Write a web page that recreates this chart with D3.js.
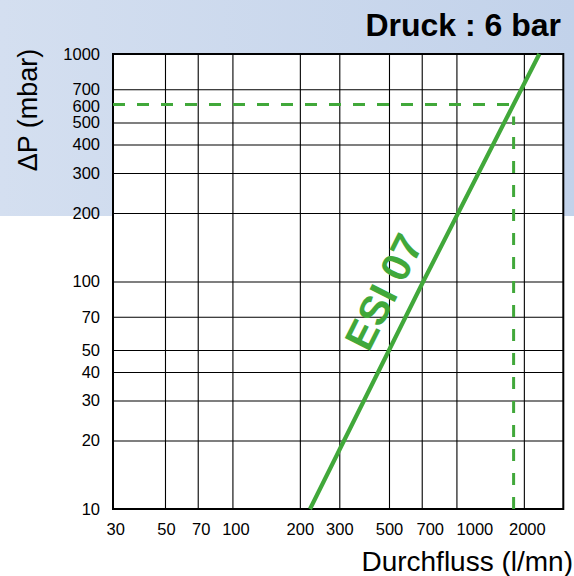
<!DOCTYPE html>
<html>
<head>
<meta charset="utf-8">
<script src="https://cdn.jsdelivr.net/npm/d3@7"></script>
<style>
  html, body { margin: 0; padding: 0; background: #fff; }
  svg { display: block; }
  text { font-family: "Liberation Sans", Arial, Helvetica, sans-serif; }
</style>
</head>
<body>
<svg id="chart" width="574" height="576"></svg>
<script>
// ---- data ----
const title = "Druck : 6 bar";
const yTitle = "ΔP (mbar)";
const xTitle = "Durchfluss (l/mn)";
const seriesName = "ESI 07";
const xTickValues = [30, 50, 70, 100, 200, 300, 500, 700, 1000, 2000];
const xGridValues = [50, 70, 100, 200, 300, 500, 700, 1000, 2000];
const yTickValues = [10, 20, 30, 40, 50, 70, 100, 200, 300, 400, 500, 600, 700, 1000];
const yGridValues = [20, 30, 40, 50, 70, 100, 200, 300, 400, 500, 700];
const flow = [222, 711, 2345];      // l/mn
const deltaP = [10, 100, 1000];     // mbar
const refPressure = 600;            // mbar (dashed)
const refFlow = 1800;               // l/mn (dashed)

// ---- layout ----
const svg = d3.select("#chart");
const L = 113, R = 563.3, T = 54, B = 509;
const green = "#41a83a";
// small label nudges (pixels) to mimic the hand-set labels of the original
const xLabelShift = { 50: 1, 70: 3, 100: 3, 700: 8, 1000: 18, 2000: 3 };
const yLabelShift = { 600: 2 };

const x = d3.scaleLog().domain([29.3, 3000]).range([L, R]);
const y = d3.scaleLog().domain([10, 1000]).range([B, T]);

// background band
const defs = svg.append("defs");
const grad = defs.append("linearGradient").attr("id", "bg").attr("x1", 0).attr("x2", 1).attr("y1", 0).attr("y2", 0);
grad.append("stop").attr("offset", 0).attr("stop-color", "#d4dff0");
grad.append("stop").attr("offset", 1).attr("stop-color", "#c2d2ea");
svg.append("rect").attr("x", 0).attr("y", 0).attr("width", 574).attr("height", 216).attr("fill", "url(#bg)");

// plot area
svg.append("rect").attr("x", L).attr("y", T).attr("width", R - L).attr("height", B - T).attr("fill", "#fff");

// grid lines
const gx = svg.append("g").attr("transform", `translate(0,${B})`)
  .call(d3.axisBottom(x).tickValues(xGridValues).tickSize(-(B - T)).tickFormat(""));
gx.select(".domain").remove();
gx.selectAll("line").attr("stroke", "#000").attr("stroke-width", 1.1);

const gy = svg.append("g").attr("transform", `translate(${L},0)`)
  .call(d3.axisLeft(y).tickValues(yGridValues).tickSize(-(R - L)).tickFormat(""));
gy.select(".domain").remove();
gy.selectAll("line").attr("stroke", "#000").attr("stroke-width", 1.1);

// frame
svg.append("rect").attr("x", L).attr("y", T).attr("width", R - L).attr("height", B - T)
  .attr("fill", "none").attr("stroke", "#000").attr("stroke-width", 2);

// tick labels
const ax = svg.append("g").attr("transform", `translate(0,${B})`)
  .call(d3.axisBottom(x).tickValues(xTickValues).tickSize(0).tickPadding(14).tickFormat(d3.format("d")));
ax.select(".domain").remove();
ax.selectAll("text").attr("font-size", 16.5).attr("fill", "#000")
  .attr("dx", d => xLabelShift[d] || 0)
  .style("font-family", '"Liberation Sans", Arial, sans-serif');

const ay = svg.append("g").attr("transform", `translate(${L},0)`)
  .call(d3.axisLeft(y).tickValues(yTickValues).tickSize(0).tickPadding(13).tickFormat(d3.format("d")));
ay.select(".domain").remove();
ay.selectAll("text").attr("font-size", 16.5).attr("fill", "#000")
  .attr("transform", d => `translate(0,${yLabelShift[d] || 0})`)
  .style("font-family", '"Liberation Sans", Arial, sans-serif');

// dashed reference lines
const xr = x(refFlow), yr = y(refPressure);
svg.append("line").attr("x1", L).attr("x2", xr + 4).attr("y1", yr).attr("y2", yr)
  .attr("stroke", green).attr("stroke-width", 3).attr("stroke-dasharray", "12,12");
svg.append("line").attr("x1", xr).attr("x2", xr).attr("y1", B).attr("y2", yr + 12)
  .attr("stroke", green).attr("stroke-width", 3).attr("stroke-dasharray", "12,12");

// main line
const pts = flow.map((f, i) => [f, deltaP[i]]);
svg.append("path").datum(pts)
  .attr("d", d3.line().x(d => x(d[0])).y(d => y(d[1])))
  .attr("fill", "none").attr("stroke", green).attr("stroke-width", 4.2);

// series label
const ang = Math.atan2(y(deltaP[2]) - y(deltaP[0]), x(flow[2]) - x(flow[0])) * 180 / Math.PI;
svg.append("text").attr("transform", `translate(384,292) rotate(${ang})`)
  .attr("text-anchor", "middle").attr("dominant-baseline", "central")
  .attr("font-size", 41).attr("font-weight", "bold").attr("fill", green)
  .text(seriesName);

// titles
svg.append("text").attr("x", 561).attr("y", 36).attr("text-anchor", "end")
  .attr("font-size", 32).attr("font-weight", "bold").attr("fill", "#000").text(title);
svg.append("text").attr("transform", "translate(37,110) rotate(-90)").attr("text-anchor", "middle")
  .attr("font-size", 27).attr("fill", "#000").text(yTitle);
svg.append("text").attr("x", 573).attr("y", 571).attr("text-anchor", "end")
  .attr("font-size", 28).attr("fill", "#000").text(xTitle);
</script>
</body>
</html>
